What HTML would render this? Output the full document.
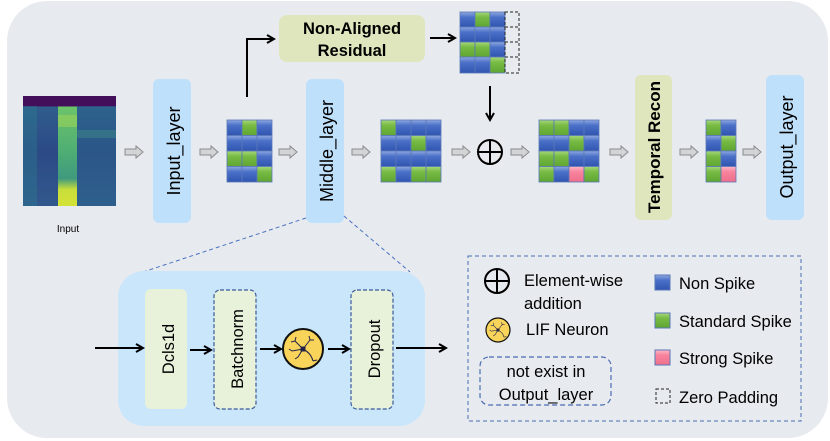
<!DOCTYPE html>
<html><head><meta charset="utf-8"><style>
html,body{margin:0;padding:0;background:#fff;}
svg{display:block;}
text{font-family:"Liberation Sans","DejaVu Sans",sans-serif;}
</style></head><body>
<svg width="830" height="441" viewBox="0 0 830 441" xmlns="http://www.w3.org/2000/svg">
<defs>
<linearGradient id="gb" x1="0" y1="0" x2="0" y2="1"><stop offset="0" stop-color="#8fa8e0"/><stop offset="0.35" stop-color="#4a70c8"/><stop offset="1" stop-color="#2f55b0"/></linearGradient>
<linearGradient id="gg" x1="0" y1="0" x2="0" y2="1"><stop offset="0" stop-color="#a6d87a"/><stop offset="0.35" stop-color="#77bb44"/><stop offset="1" stop-color="#5ea532"/></linearGradient>
<linearGradient id="gr" x1="0" y1="0" x2="0" y2="1"><stop offset="0" stop-color="#ffb7c6"/><stop offset="0.35" stop-color="#f7839d"/><stop offset="1" stop-color="#ee6f8c"/></linearGradient>
<linearGradient id="spec" x1="0" y1="0" x2="0" y2="1"><stop offset="0" stop-color="#440f5a"/><stop offset="0.09" stop-color="#440f5a"/><stop offset="0.1" stop-color="#2f5d8c"/><stop offset="0.5" stop-color="#2c4a86"/><stop offset="1" stop-color="#31588c"/></linearGradient>
<linearGradient id="band" x1="0" y1="0" x2="0" y2="1"><stop offset="0" stop-color="#440f5a"/><stop offset="0.09" stop-color="#440f5a"/><stop offset="0.1" stop-color="#6cc36a"/><stop offset="0.5" stop-color="#4fae74"/><stop offset="0.75" stop-color="#3f9a7e"/><stop offset="0.85" stop-color="#c8de3a"/><stop offset="1" stop-color="#d4e237"/></linearGradient>
<marker id="ah" markerWidth="10" markerHeight="10" refX="8" refY="5" orient="auto" markerUnits="userSpaceOnUse"><path d="M1,1 L8,5 L1,9" fill="none" stroke="#000" stroke-width="2"/></marker>
<g id="ga"><path d="M0,-3 H11 V-6 L18,0 L11,6 V3 H0 Z" fill="#d2d4d6" stroke="#8a8c8e" stroke-width="1"/></g>
<g id="neu"><circle r="20" fill="#f9d45a" stroke="#111" stroke-width="2"/><g stroke="#23234a" stroke-width="1" fill="none"><path d="M0,0 L-8,-8 M-8,-8 L-12,-7 M-8,-8 L-7,-12 M0,0 L7,-9 M7,-9 L11,-9 M7,-9 L6,-13 M0,0 L-11,2 M-11,2 L-14,0 M0,0 L-5,8 M-5,8 L-8,10 M0,0 Q8,4 10,12 M10,12 L14,11"/></g><rect x="-2.5" y="-2.5" width="5" height="5" fill="#23234a"/></g>
</defs>
<rect x="7" y="1" width="821" height="437" rx="40" fill="#e7eaee"/>
<!-- spectrogram -->
<rect x="23" y="96" width="93" height="110" fill="url(#spec)"/>
<rect x="23" y="106" width="14" height="100" fill="#2a788e" opacity="0.45"/>
<rect x="58" y="96" width="19" height="110" fill="url(#band)"/>
<rect x="77" y="106" width="39" height="100" fill="#2c6d8c" opacity="0.35"/>
<rect x="77" y="130" width="39" height="8" fill="#3d8a8a" opacity="0.5"/>
<rect x="58" y="115" width="19" height="12" fill="#9ad25a" opacity="0.6"/>
<text x="68" y="232" font-size="10" text-anchor="middle" fill="#000">Input</text>
<!-- gray arrows -->
<use href="#ga" x="125" y="152"/><use href="#ga" x="200" y="152"/><use href="#ga" x="279" y="152"/>
<use href="#ga" x="352" y="152"/><use href="#ga" x="452" y="152"/><use href="#ga" x="511" y="152"/>
<use href="#ga" x="610" y="152"/><use href="#ga" x="680" y="152"/><use href="#ga" x="743" y="152"/>
<!-- layers -->
<rect x="153" y="79" width="38" height="144" rx="6" fill="#bfe0fb"/>
<text transform="translate(180,151) rotate(-90)" font-size="18" text-anchor="middle">Input_layer</text>
<rect x="306" y="79" width="38" height="144" rx="6" fill="#bfe0fb"/>
<text transform="translate(333,151) rotate(-90)" font-size="18" text-anchor="middle">Middle_layer</text>
<rect x="635" y="75" width="37" height="145" rx="6" fill="#dfe6bd"/>
<text transform="translate(660,147) rotate(-90)" font-size="17" font-weight="bold" text-anchor="middle">Temporal Recon</text>
<rect x="766" y="75" width="38" height="145" rx="6" fill="#bfe0fb"/>
<text transform="translate(793,147) rotate(-90)" font-size="18" text-anchor="middle">Output_layer</text>
<!-- residual -->
<rect x="279" y="15" width="146" height="47" rx="8" fill="#dfe6bd"/>
<text x="352" y="34" font-size="16.5" font-weight="bold" text-anchor="middle">Non-Aligned</text>
<text x="352" y="56" font-size="16.5" font-weight="bold" text-anchor="middle">Residual</text>
<path d="M247,97 V39 H274" fill="none" stroke="#000" stroke-width="2" marker-end="url(#ah)"/>
<path d="M430,38 H455" fill="none" stroke="#000" stroke-width="2" marker-end="url(#ah)"/>
<path d="M490,86 V120" fill="none" stroke="#000" stroke-width="2" marker-end="url(#ah)"/>
<!-- grids -->
<g stroke="#5a77b8" stroke-width="0.8">
<rect x="227" y="120" width="15" height="15.5" fill="url(#gb)"/><rect x="242" y="120" width="15" height="15.5" fill="url(#gg)"/><rect x="257" y="120" width="15" height="15.5" fill="url(#gb)"/>
<rect x="227" y="135.5" width="15" height="15.5" fill="url(#gb)"/><rect x="242" y="135.5" width="15" height="15.5" fill="url(#gb)"/><rect x="257" y="135.5" width="15" height="15.5" fill="url(#gb)"/>
<rect x="227" y="151" width="15" height="15.5" fill="url(#gg)"/><rect x="242" y="151" width="15" height="15.5" fill="url(#gg)"/><rect x="257" y="151" width="15" height="15.5" fill="url(#gb)"/>
<rect x="227" y="166.5" width="15" height="15.5" fill="url(#gb)"/><rect x="242" y="166.5" width="15" height="15.5" fill="url(#gb)"/><rect x="257" y="166.5" width="15" height="15.5" fill="url(#gg)"/>
<rect x="460" y="12" width="15" height="15" fill="url(#gb)"/><rect x="475" y="12" width="15" height="15" fill="url(#gg)"/><rect x="490" y="12" width="15" height="15" fill="url(#gb)"/>
<rect x="460" y="27" width="15" height="15" fill="url(#gb)"/><rect x="475" y="27" width="15" height="15" fill="url(#gb)"/><rect x="490" y="27" width="15" height="15" fill="url(#gb)"/>
<rect x="460" y="42" width="15" height="15" fill="url(#gg)"/><rect x="475" y="42" width="15" height="15" fill="url(#gg)"/><rect x="490" y="42" width="15" height="15" fill="url(#gb)"/>
<rect x="460" y="57" width="15" height="16" fill="url(#gb)"/><rect x="475" y="57" width="15" height="16" fill="url(#gb)"/><rect x="490" y="57" width="15" height="16" fill="url(#gg)"/>
<rect x="381" y="120" width="15" height="15.5" fill="url(#gg)"/><rect x="396" y="120" width="15" height="15.5" fill="url(#gb)"/><rect x="411" y="120" width="15" height="15.5" fill="url(#gb)"/><rect x="426" y="120" width="15" height="15.5" fill="url(#gb)"/>
<rect x="381" y="135.5" width="15" height="15.5" fill="url(#gb)"/><rect x="396" y="135.5" width="15" height="15.5" fill="url(#gb)"/><rect x="411" y="135.5" width="15" height="15.5" fill="url(#gg)"/><rect x="426" y="135.5" width="15" height="15.5" fill="url(#gb)"/>
<rect x="381" y="151" width="15" height="15.5" fill="url(#gb)"/><rect x="396" y="151" width="15" height="15.5" fill="url(#gb)"/><rect x="411" y="151" width="15" height="15.5" fill="url(#gb)"/><rect x="426" y="151" width="15" height="15.5" fill="url(#gb)"/>
<rect x="381" y="166.5" width="15" height="15.5" fill="url(#gg)"/><rect x="396" y="166.5" width="15" height="15.5" fill="url(#gb)"/><rect x="411" y="166.5" width="15" height="15.5" fill="url(#gg)"/><rect x="426" y="166.5" width="15" height="15.5" fill="url(#gg)"/>
<rect x="539" y="120" width="15" height="15.5" fill="url(#gg)"/><rect x="554" y="120" width="15" height="15.5" fill="url(#gg)"/><rect x="569" y="120" width="15" height="15.5" fill="url(#gb)"/><rect x="584" y="120" width="15" height="15.5" fill="url(#gb)"/>
<rect x="539" y="135.5" width="15" height="15.5" fill="url(#gb)"/><rect x="554" y="135.5" width="15" height="15.5" fill="url(#gb)"/><rect x="569" y="135.5" width="15" height="15.5" fill="url(#gg)"/><rect x="584" y="135.5" width="15" height="15.5" fill="url(#gb)"/>
<rect x="539" y="151" width="15" height="15.5" fill="url(#gg)"/><rect x="554" y="151" width="15" height="15.5" fill="url(#gg)"/><rect x="569" y="151" width="15" height="15.5" fill="url(#gb)"/><rect x="584" y="151" width="15" height="15.5" fill="url(#gb)"/>
<rect x="539" y="166.5" width="15" height="15.5" fill="url(#gg)"/><rect x="554" y="166.5" width="15" height="15.5" fill="url(#gb)"/><rect x="569" y="166.5" width="15" height="15.5" fill="url(#gr)"/><rect x="584" y="166.5" width="15" height="15.5" fill="url(#gg)"/>
<rect x="706" y="120" width="15" height="15.5" fill="url(#gg)"/><rect x="721" y="120" width="15" height="15.5" fill="url(#gb)"/>
<rect x="706" y="135.5" width="15" height="15.5" fill="url(#gb)"/><rect x="721" y="135.5" width="15" height="15.5" fill="url(#gg)"/>
<rect x="706" y="151" width="15" height="15.5" fill="url(#gg)"/><rect x="721" y="151" width="15" height="15.5" fill="url(#gb)"/>
<rect x="706" y="166.5" width="15" height="15.5" fill="url(#gg)"/><rect x="721" y="166.5" width="15" height="15.5" fill="url(#gr)"/>
</g>
<g stroke="#222" stroke-width="1" stroke-dasharray="3,2" fill="none">
<rect x="505" y="12" width="14" height="15"/><rect x="505" y="27" width="14" height="15"/><rect x="505" y="42" width="14" height="15"/><rect x="505" y="57" width="14" height="16"/>
</g>
<g stroke="#000" stroke-width="2" fill="none"><circle cx="490" cy="152" r="12"/><path d="M478,152 H502 M490,140 V164"/></g>
<path d="M306,218 L128,277 M344,216 L410,272" stroke="#4a72c4" stroke-width="1" stroke-dasharray="4,3" fill="none"/>
<!-- lower box -->
<rect x="118" y="271" width="307" height="155" rx="26" fill="#c9e6fb"/>
<rect x="145" y="289" width="42" height="120" rx="6" fill="#e8f1d9"/>
<text transform="translate(174,349) rotate(-90)" font-size="16.5" text-anchor="middle">Dcls1d</text>
<rect x="214" y="290" width="42" height="119" rx="6" fill="#e8f1d9" stroke="#3a5a9a" stroke-width="1.2" stroke-dasharray="4,2"/>
<text transform="translate(243,349) rotate(-90)" font-size="16.5" text-anchor="middle">Batchnorm</text>
<rect x="351" y="290" width="42" height="119" rx="6" fill="#e8f1d9" stroke="#3a5a9a" stroke-width="1.2" stroke-dasharray="4,2"/>
<text transform="translate(380,349) rotate(-90)" font-size="16.5" text-anchor="middle">Dropout</text>
<use href="#neu" x="303" y="349"/>
<g stroke="#000" stroke-width="2" fill="none">
<path d="M95,348 H143" marker-end="url(#ah)"/><path d="M190,350 H211" marker-end="url(#ah)"/>
<path d="M260,349 H281" marker-end="url(#ah)"/><path d="M328,349 H349" marker-end="url(#ah)"/>
<path d="M396,348 H446" marker-end="url(#ah)"/>
</g>
<!-- legend -->
<rect x="468" y="256" width="333" height="165" fill="none" stroke="#4a6cb4" stroke-width="1" stroke-dasharray="4,3"/>
<g stroke="#000" stroke-width="2" fill="none"><circle cx="497" cy="281" r="12"/><path d="M485,281 H509 M497,269 V293"/></g>
<text x="524" y="286" font-size="16.5">Element-wise</text>
<text x="524" y="309" font-size="16.5">addition</text>
<g transform="translate(498,330) scale(0.6)"><use href="#neu"/></g>
<text x="526" y="335" font-size="16.5">LIF Neuron</text>
<rect x="480" y="357" width="131" height="48" rx="9" fill="none" stroke="#4a6cb4" stroke-width="1.2" stroke-dasharray="5,3"/>
<text x="546" y="377" font-size="16.5" text-anchor="middle">not exist in</text>
<text x="546" y="400" font-size="16.5" text-anchor="middle">Output_layer</text>
<rect x="655" y="275" width="15" height="15" fill="url(#gb)" stroke="#5a77b8"/>
<text x="679" y="289" font-size="16.5">Non Spike</text>
<rect x="655" y="313" width="15" height="15" fill="url(#gg)" stroke="#5a77b8"/>
<text x="679" y="327" font-size="16.5">Standard Spike</text>
<rect x="655" y="350" width="15" height="15" fill="url(#gr)" stroke="#5a77b8"/>
<text x="679" y="364" font-size="16.5">Strong Spike</text>
<rect x="656" y="389" width="14" height="14" fill="none" stroke="#222" stroke-dasharray="3,2"/>
<text x="679" y="403" font-size="16.5">Zero Padding</text>
</svg>
</body></html>
